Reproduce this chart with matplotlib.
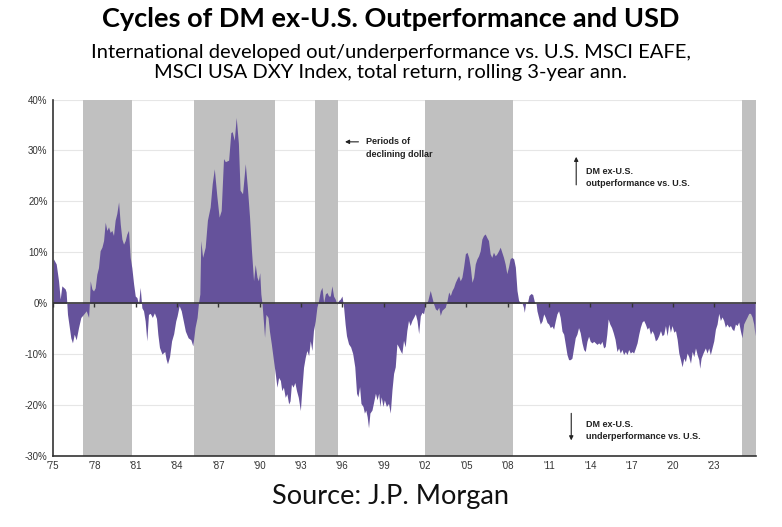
import matplotlib.pyplot as plt

# rolling 3-yr relative return, DM ex-U.S. minus U.S. (%)
years = [
    1975.02, 1975.22, 1975.39, 1975.51, 1975.63, 1975.75, 1975.87, 1975.94,
    1976.04, 1976.14, 1976.28, 1976.40, 1976.53, 1976.67, 1976.84, 1977.01,
    1977.20, 1977.40, 1977.57, 1977.64, 1977.69, 1977.81, 1977.93, 1978.05,
    1978.17, 1978.29, 1978.41, 1978.54, 1978.66, 1978.78, 1978.90, 1979.02,
    1979.14, 1979.26, 1979.38, 1979.50, 1979.62, 1979.75, 1979.87, 1979.99,
    1980.11, 1980.23, 1980.35, 1980.47, 1980.59, 1980.71, 1980.84, 1980.96,
    1981.08, 1981.20, 1981.32, 1981.44, 1981.56, 1981.68, 1981.80, 1981.92,
    1982.05, 1982.20, 1982.35, 1982.50, 1982.60, 1982.72, 1982.90, 1983.10,
    1983.20, 1983.30, 1983.45, 1983.60, 1983.75, 1983.90, 1984.00, 1984.15,
    1984.30, 1984.45, 1984.60, 1984.80, 1985.00, 1985.14, 1985.30, 1985.45,
    1985.55, 1985.65, 1985.72, 1985.85, 1986.04, 1986.20, 1986.40, 1986.55,
    1986.70, 1986.89, 1987.05, 1987.20, 1987.37, 1987.50, 1987.74, 1987.90,
    1988.00, 1988.15, 1988.29, 1988.45, 1988.57, 1988.75, 1988.95, 1989.10,
    1989.26, 1989.40, 1989.55, 1989.67, 1989.80, 1989.90, 1990.00, 1990.08,
    1990.17, 1990.28, 1990.35, 1990.45, 1990.60, 1990.70, 1990.84, 1991.00,
    1991.13, 1991.25, 1991.37, 1991.50, 1991.60, 1991.72, 1991.85, 1991.97,
    1992.10, 1992.20, 1992.30, 1992.42, 1992.55, 1992.67, 1992.80, 1992.95,
    1993.05, 1993.18, 1993.30, 1993.42, 1993.55, 1993.67, 1993.79, 1993.90,
    1994.03, 1994.15, 1994.27, 1994.40, 1994.52, 1994.64, 1994.76, 1994.88,
    1995.00, 1995.12, 1995.24, 1995.36, 1995.48, 1995.60, 1995.72, 1995.85,
    1995.97, 1996.08, 1996.20, 1996.30, 1996.45, 1996.60, 1996.75, 1996.90,
    1997.03, 1997.13, 1997.25, 1997.35, 1997.50, 1997.60, 1997.70, 1997.80,
    1997.90, 1998.00, 1998.15, 1998.25, 1998.40, 1998.52, 1998.64, 1998.72,
    1998.82, 1998.95, 1999.05, 1999.20, 1999.35, 1999.48, 1999.60, 1999.72,
    1999.84, 1999.96, 2000.08, 2000.20, 2000.32, 2000.44, 2000.56, 2000.68,
    2000.80, 2000.92, 2001.05, 2001.17, 2001.30, 2001.42, 2001.54, 2001.66,
    2001.78, 2001.90, 2002.02, 2002.20, 2002.38, 2002.50, 2002.62, 2002.75,
    2002.87, 2003.00, 2003.11, 2003.23, 2003.35, 2003.47, 2003.60, 2003.72,
    2003.84, 2003.96, 2004.08, 2004.20, 2004.32, 2004.44, 2004.56, 2004.68,
    2004.80, 2004.93, 2005.05, 2005.17, 2005.29, 2005.41, 2005.53, 2005.65,
    2005.77, 2005.89, 2006.01, 2006.13, 2006.25, 2006.37, 2006.49, 2006.61,
    2006.73, 2006.85, 2006.97, 2007.10, 2007.22, 2007.34, 2007.46, 2007.58,
    2007.70, 2007.82, 2007.94, 2008.06, 2008.18, 2008.30, 2008.44, 2008.56,
    2008.68, 2008.80, 2008.92, 2009.04, 2009.15, 2009.21, 2009.30, 2009.45,
    2009.55, 2009.70, 2009.82, 2009.95, 2010.07, 2010.13, 2010.25, 2010.37,
    2010.50, 2010.62, 2010.74, 2010.86, 2010.98, 2011.10, 2011.22, 2011.34,
    2011.46, 2011.58, 2011.70, 2011.82, 2011.95, 2012.07, 2012.19, 2012.31,
    2012.43, 2012.55, 2012.67, 2012.79, 2012.91, 2013.03, 2013.15, 2013.27,
    2013.40, 2013.52, 2013.64, 2013.76, 2013.88, 2014.00, 2014.13, 2014.25,
    2014.37, 2014.49, 2014.61, 2014.73, 2014.85, 2014.97, 2015.09, 2015.20,
    2015.30, 2015.42, 2015.55, 2015.67, 2015.80, 2015.94, 2016.06, 2016.18,
    2016.30, 2016.42, 2016.55, 2016.67, 2016.79, 2016.91, 2017.03, 2017.15,
    2017.28, 2017.40, 2017.52, 2017.64, 2017.76, 2017.88, 2018.00, 2018.13,
    2018.25, 2018.37, 2018.49, 2018.61, 2018.73, 2018.85, 2018.97, 2019.10,
    2019.22, 2019.34, 2019.46, 2019.58, 2019.70, 2019.82, 2019.94, 2020.07,
    2020.19, 2020.31, 2020.43, 2020.55, 2020.67, 2020.79, 2020.91, 2021.03,
    2021.15, 2021.28, 2021.40, 2021.52, 2021.64, 2021.76, 2021.88, 2021.95,
    2022.05, 2022.19, 2022.36, 2022.48, 2022.60, 2022.72, 2022.84, 2022.97,
    2023.09, 2023.21, 2023.33, 2023.45, 2023.57, 2023.69, 2023.81, 2023.93,
    2024.06, 2024.18, 2024.30, 2024.42, 2024.54, 2024.66, 2024.78, 2024.90,
    2025.02, 2025.14, 2025.26, 2025.39, 2025.51, 2025.63, 2025.75, 2025.87,
    2025.97,
]
rel_perf = [
    8.7, 7.7, 4.4, 0.8, 3.4, 3.1, 2.8, 2.2,
    -2.2, -4.1, -6.8, -7.8, -6.1, -7.2, -4.8, -2.8,
    -2.2, -1.5, -2.8, 0.5, 4.4, 2.8, 2.4, 3.0,
    5.7, 7.0, 10.3, 11.0, 12.3, 15.9, 14.3, 15.0,
    13.9, 14.3, 13.3, 16.3, 17.6, 19.9, 15.6, 12.6,
    11.6, 12.3, 13.6, 14.3, 9.0, 7.0, 3.8, 1.4,
    1.1, -0.2, 3.1, -0.9, -1.5, -3.5, -7.4, -2.2,
    -2.0, -2.8, -1.9, -3.0, -6.1, -8.7, -10.0, -9.5,
    -11.0, -11.9, -10.5, -7.4, -6.0, -3.5, -2.5, -0.5,
    -1.5, -3.5, -5.5, -6.8, -7.2, -8.4, -4.8, -2.8,
    0.0, 1.8, 12.3, 9.0, 11.0, 16.3, 18.9, 23.5,
    26.4, 20.9, 16.9, 18.2, 28.4, 27.8, 28.1, 33.5,
    33.7, 32.0, 36.5, 31.4, 22.2, 21.5, 27.4, 22.8,
    16.9, 10.3, 4.4, 7.6, 5.1, 4.4, 6.0, 1.8,
    -0.2, -4.1, -6.7, -2.2, -2.8, -5.4, -8.0, -11.3,
    -13.9, -16.5, -14.6, -15.2, -17.2, -16.5, -18.5, -17.8,
    -19.8, -19.2, -15.9, -16.5, -15.6, -17.2, -18.5, -21.1,
    -17.2, -12.6, -10.7, -9.3, -10.3, -7.4, -9.3, -5.4,
    -3.5, -0.8, 0.5, 2.4, 3.1, 0.1, 1.8, 2.1,
    1.4, 1.4, 3.4, 1.4, 0.8, -0.2, 0.5, 0.8,
    1.4, -0.5, -4.1, -6.4, -8.0, -8.6, -9.9, -12.5,
    -17.7, -18.4, -16.4, -19.7, -20.3, -21.6, -21.0, -22.3,
    -24.5, -21.6, -21.0, -19.7, -17.7, -19.0, -17.7, -20.3,
    -18.4, -20.3, -19.0, -20.3, -19.7, -21.6, -17.1, -13.8,
    -12.5, -8.0, -8.6, -9.3, -9.9, -7.3, -8.6, -5.4,
    -3.4, -4.4, -3.4, -2.8, -2.1, -3.4, -6.0, -2.5,
    -1.8, -2.1, -0.3, 0.5, 2.5, 1.2, -0.1, -1.1,
    -1.4, -0.8, -2.4, -1.4, -1.1, -0.8, 0.5, 2.2,
    1.5, 2.5, 3.1, 4.1, 4.8, 5.4, 4.4, 5.1,
    7.1, 9.7, 10.0, 9.0, 7.1, 4.1, 5.1, 7.7,
    8.7, 9.3, 10.3, 12.6, 13.3, 13.6, 12.9, 12.3,
    9.7, 9.0, 10.0, 9.3, 9.7, 10.3, 11.0, 10.0,
    9.0, 7.7, 5.8, 7.1, 8.7, 9.0, 8.7, 7.1,
    2.5, 0.5, 0.2, 0.1, -0.8, -1.8, -0.1, 0.2,
    1.5, 1.9, 1.7, 0.2, -0.1, -1.5, -2.8, -4.1,
    -3.5, -2.1, -2.8, -3.8, -4.1, -4.8, -4.5, -5.1,
    -3.5, -2.1, -1.5, -2.8, -5.5, -6.1, -8.1, -10.1,
    -11.1, -11.1, -10.8, -8.8, -6.8, -6.1, -4.8, -5.8,
    -7.8, -9.1, -9.5, -7.5, -6.5, -7.5, -7.8, -7.5,
    -7.8, -8.1, -7.8, -8.1, -7.5, -8.8, -8.5, -6.1,
    -3.1, -4.1, -4.8, -5.8, -7.1, -9.5, -8.8, -9.8,
    -9.1, -10.1, -9.5, -10.1, -9.1, -9.8, -9.5, -9.8,
    -8.8, -7.8, -6.1, -4.7, -3.7, -3.4, -4.1, -5.1,
    -4.7, -6.1, -5.4, -6.1, -7.4, -7.1, -6.4, -5.4,
    -6.4, -6.1, -4.4, -6.4, -4.1, -5.7, -4.4, -5.7,
    -5.4, -7.1, -9.8, -11.1, -12.5, -10.8, -11.5, -9.8,
    -10.5, -11.8, -9.5, -10.5, -8.8, -10.1, -11.1, -12.8,
    -10.8, -9.8, -8.8, -9.8, -8.8, -10.1, -8.8, -7.4,
    -5.1, -4.1, -2.0, -3.4, -2.7, -3.4, -4.7, -4.1,
    -4.7, -4.4, -5.1, -5.4, -4.1, -4.4, -3.7, -5.4,
    -6.8, -4.1, -3.4, -2.7, -2.0, -2.0, -2.7, -4.1,
    -6.4,
]

# periods of declining dollar (start, end)
band_start = [1977.2, 1985.2, 1994.0, 2002.0, 2025.0]
band_end = [1980.7, 1991.1, 1995.65, 2008.4, 2026.05]

tick_years = list(range(1975, 2024, 3))
tick_labels = ["'%02d" % (y % 100) for y in tick_years]
y_ticks = [-30, -20, -10, 0, 10, 20, 30, 40]
y_labels = ["%d%%" % v for v in y_ticks]

purple = "#65529b"
band_grey = "#c0c0c0"

fig = plt.figure(figsize=(7.82, 5.27), dpi=100)
ax = fig.add_axes([0.068, 0.135, 0.899, 0.676])

ax.set_xlim(1975, 2026.05)
ax.set_ylim(-30, 40)

# light grid under the bands
for v in y_ticks:
    if v not in (0, -30):
        ax.axhline(v, color="#e6e6e6", lw=0.8, zorder=0)

for s, e in zip(band_start, band_end):
    ax.axvspan(s, e, color=band_grey, lw=0, zorder=1)

ax.fill_between(years, rel_perf, 0, color=purple, lw=0, zorder=2)
ax.axhline(0, color="#333333", lw=1.2, zorder=3)
ax.vlines(tick_years, -0.7, 0, color="#333333", lw=1.0, zorder=3)

ax.set_xticks(tick_years)
ax.set_xticklabels(tick_labels, fontsize=7, family="Liberation Sans", color="#333333")
ax.set_yticks(y_ticks)
ax.set_yticklabels(y_labels, fontsize=7, family="Liberation Sans", color="#333333")
ax.tick_params(axis="both", length=0, pad=4)

for side in ("top", "right"):
    ax.spines[side].set_visible(False)
for side in ("left", "bottom"):
    ax.spines[side].set_color("#333333")
    ax.spines[side].set_linewidth(1.2)

# annotations
ann = dict(fontsize=6.5, fontweight="bold", family="Liberation Sans",
           color="#222222", linespacing=1.45)
arrow = dict(arrowstyle="-|>", color="#222222", lw=0.8, mutation_scale=6)
ax.annotate("", xy=(1995.99, 31.7), xytext=(1997.37, 31.7), arrowprops=arrow)
ax.text(1997.73, 30.5, "Periods of\ndeclining dollar", va="center", ha="left", **ann)

ax.annotate("", xy=(2012.98, 29.3), xytext=(2012.98, 22.7), arrowprops=arrow)
ax.text(2013.68, 24.75, "DM ex-U.S.\noutperformance vs. U.S.", va="center", ha="left", **ann)

ax.annotate("", xy=(2012.62, -27.5), xytext=(2012.62, -21.1), arrowprops=arrow)
ax.text(2013.68, -25.0, "DM ex-U.S.\nunderperformance vs. U.S.", va="center", ha="left", **ann)

fig.text(0.5, 0.964, "Cycles of DM ex-U.S. Outperformance and USD",
         ha="center", va="center", fontsize=19.5, fontweight="bold", family="Lato")
fig.text(0.5, 0.882,
         "International developed out/underperformance vs. U.S. MSCI EAFE,\n"
         "MSCI USA DXY Index, total return, rolling 3-year ann.",
         ha="center", va="center", fontsize=14.5, family="Lato", linespacing=1.2)
fig.text(0.5, 0.057, "Source: J.P. Morgan", ha="center", va="center",
         fontsize=19.5, family="Lato", color="#111111")

fig.savefig("out.png", dpi=100)
